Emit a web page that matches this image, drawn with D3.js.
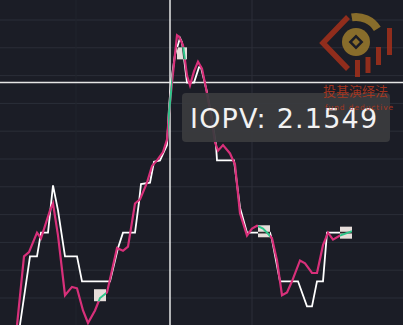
<!DOCTYPE html>
<html>
<head>
<meta charset="utf-8">
<script src="https://cdn.jsdelivr.net/npm/d3@7"></script>
<style>
  body { margin: 0; background: #1b1d26; }
  svg { display: block; }
</style>
</head>
<body>
<div id="chart"></div>
<script>
const width = 403, height = 325;

// IOPV (pink) series
const pinkT = [6, 9.6, 11.6, 14.8, 16.4, 20, 21.2, 23.2, 26, 28.8, 30.8, 33.2, 35.2, 38, 40, 42.8,
  46.8, 49.2, 51.2, 54, 56, 58.8, 60.8, 62.8, 65.2, 66.8, 67.6, 68.8, 70.8, 71.6, 73.2, 74.8,
  76, 77.6, 79.2, 80.8, 82.4, 84, 86, 87.2, 89.2, 92, 94, 96, 98.8, 100.8, 102.8, 105.2,
  106.8, 108.8, 110.8, 112.8, 114.8, 116.8, 120, 122, 124.8, 126.8, 129.2, 131.2, 133.2, 136, 140.8];
const pinkV = [2.1366, 2.1430, 2.1433, 2.1447, 2.1443, 2.1463, 2.1468, 2.1445, 2.1402, 2.1408, 2.1407, 2.1391, 2.1382, 2.1391, 2.1400, 2.1404,
  2.1436, 2.1434, 2.1437, 2.1468, 2.1471, 2.1483, 2.1495, 2.1499, 2.1505, 2.1514, 2.1533, 2.1555, 2.1589, 2.1588, 2.1582, 2.1560,
  2.1553, 2.1563, 2.1570, 2.1565, 2.1551, 2.1535, 2.1512, 2.1506, 2.1510, 2.1504, 2.1496, 2.1461, 2.1445, 2.1450, 2.1452, 2.1450,
  2.1447, 2.1443, 2.1427, 2.1402, 2.1404, 2.1412, 2.1427, 2.1425, 2.1418, 2.1418, 2.1438, 2.1447, 2.1442, 2.1445, 2.1448];

// price (white) series
const whiteT = [6.8, 12, 14.8, 16.4, 19.2, 21.2, 23.2, 26, 30.8, 32.8, 44, 47.2, 49.2, 54, 55.6, 56.4,
  60, 61.6, 64, 66.8, 67.6, 68.4, 70, 72, 72.8, 74.8, 77.6, 79.6, 80.4, 82.8, 84.8, 86.4,
  86.8, 93.6, 96, 98.8, 108, 108.8, 112, 119.2, 122.8, 124.8, 126.8, 129.2, 130.8, 140.8];
const whiteV = [2.1366, 2.1430, 2.1430, 2.1447, 2.1447, 2.1481, 2.1463, 2.1430, 2.1430, 2.1412, 2.1412, 2.1436, 2.1447, 2.1447, 2.1469, 2.1482,
  2.1483, 2.1498, 2.1499, 2.1510, 2.1537, 2.1555, 2.1575, 2.1587, 2.1584, 2.1555, 2.1555, 2.1566, 2.1566, 2.1548, 2.1529, 2.1510,
  2.1499, 2.1499, 2.1465, 2.1447, 2.1447, 2.1442, 2.1412, 2.1412, 2.1394, 2.1394, 2.1412, 2.1412, 2.1447, 2.1447];

const gridValues = [2.140, 2.142, 2.144, 2.146, 2.148, 2.150, 2.152, 2.154, 2.156, 2.158, 2.160];
const gridTimes = [30.4, 100.8];

// highlighted spans
const markT0 = [37.6, 70.8, 103.2, 136];
const markT1 = [42.4, 74.8, 108, 140.8];
const markV = [2.1402, 2.1576, 2.1448, 2.1447];

const cursorT = 68, cursorV = 2.1555;
const tipLabel = "IOPV: 2.1549";

const x = d3.scaleLinear().domain([0, 160]).range([0, 400]);
const y = d3.scaleLinear().domain([2.140, 2.160]).range([298, 20]);

const svg = d3.select("#chart").append("svg")
  .attr("width", width).attr("height", height);

svg.append("rect").attr("width", width).attr("height", height).attr("fill", "#1b1d26");

// grid
svg.append("g").selectAll("line").data(gridValues).enter().append("line")
  .attr("x1", 0).attr("x2", width)
  .attr("y1", d => y(d)).attr("y2", d => y(d))
  .attr("stroke", "#2b2e38").attr("stroke-width", 1);
svg.append("g").selectAll("line").data(gridTimes).enter().append("line")
  .attr("x1", d => x(d)).attr("x2", d => x(d))
  .attr("y1", 0).attr("y2", height)
  .attr("stroke", (d, i) => i === 0 ? "#21242d" : "#2c2f39").attr("stroke-width", 1);

// crosshair
svg.append("line").attr("x1", x(cursorT)).attr("x2", x(cursorT)).attr("y1", 0).attr("y2", height)
  .attr("stroke", "#e6e6e6").attr("stroke-width", 1.5);
svg.append("line").attr("x1", 0).attr("x2", width).attr("y1", y(cursorV)).attr("y2", y(cursorV))
  .attr("stroke", "#e6e6e6").attr("stroke-width", 1.5);

const line = d3.line().x(d => x(d[0])).y(d => y(d[1]));
const whiteData = d3.zip(whiteT, whiteV);
const pinkData = d3.zip(pinkT, pinkV);

svg.append("path").datum(whiteData).attr("d", line)
  .attr("fill", "none").attr("stroke", "#ffffff").attr("stroke-width", 1.8);
svg.append("path").datum(pinkData).attr("d", line)
  .attr("fill", "none").attr("stroke", "#d8307a").attr("stroke-width", 2.2);

// marker boxes with the segment redrawn inside
const defs = svg.append("defs");
markT0.forEach((t0, i) => {
  const x0 = x(t0), x1 = x(markT1[i]), yc = y(markV[i]);
  defs.append("clipPath").attr("id", "clip" + i)
    .append("rect").attr("x", x0).attr("y", yc - 6).attr("width", x1 - x0).attr("height", 12);
  svg.append("rect").attr("x", x0).attr("y", yc - 6).attr("width", x1 - x0).attr("height", 12)
    .attr("fill", "#f1e8e4").attr("opacity", 0.95);
  svg.append("path").datum(whiteData).attr("d", line).attr("clip-path", `url(#clip${i})`)
    .attr("fill", "none").attr("stroke", "#2a2a2a").attr("stroke-width", 1.6);
  svg.append("path").datum(pinkData).attr("d", line).attr("clip-path", `url(#clip${i})`)
    .attr("fill", "none").attr("stroke", "#2fc58a").attr("stroke-width", 2);
});
defs.append("clipPath").attr("id", "clipCursor")
  .append("rect").attr("x", x(67.2)).attr("y", 0).attr("width", x(68.9) - x(67.2)).attr("height", height);
svg.append("path").datum(pinkData).attr("d", line).attr("clip-path", "url(#clipCursor)")
  .attr("fill", "none").attr("stroke", "#2fc58a").attr("stroke-width", 2);

// tooltip
const tip = svg.append("g").attr("transform", "translate(182,93)");
tip.append("rect").attr("width", 208).attr("height", 49).attr("rx", 4)
  .attr("fill", "#3a3b3e").attr("opacity", 0.93);
tip.append("text").attr("x", 8).attr("y", 34.5)
  .attr("font-family", "DejaVu Sans, sans-serif").attr("font-size", 27)
  .attr("letter-spacing", 1.2).attr("fill", "#f2f2f2").text(tipLabel);

// logo
const logo = svg.append("g").attr("opacity", 0.85);
const red = "#a5301b", gold = "#9c7b2c";
logo.append("path").attr("d", "M348,17 L323,43 L348,69")
  .attr("fill", "none").attr("stroke", red).attr("stroke-width", 5.5).attr("stroke-linejoin", "miter");
logo.append("path")
  .attr("transform", "translate(356,42)")
  .attr("d", d3.arc().innerRadius(21).outerRadius(29).startAngle(-0.17).endAngle(1.02)())
  .attr("fill", gold);
logo.append("circle").attr("cx", 356).attr("cy", 42).attr("r", 14).attr("fill", gold);
logo.append("rect").attr("x", 352).attr("y", 38).attr("width", 8).attr("height", 8)
  .attr("transform", "rotate(45,356,42)")
  .attr("fill", "none").attr("stroke", "#1b1d26").attr("stroke-width", 2.5);
[[355, 60, 77], [365.5, 57, 73], [376, 47, 65], [387, 28, 55]].forEach(b => {
  logo.append("rect").attr("x", b[0]).attr("y", b[1]).attr("width", 5).attr("height", b[2] - b[1])
    .attr("fill", red);
});
logo.append("text").attr("x", 323).attr("y", 96)
  .attr("font-family", "Noto Sans CJK SC, sans-serif").attr("font-size", 13)
  .attr("fill", "#b8381e").text("投基演绎法");
logo.append("text").attr("x", 325).attr("y", 110)
  .attr("font-family", "DejaVu Sans, sans-serif").attr("font-size", 7.5).attr("letter-spacing", 0.9)
  .attr("fill", "#b8381e").text("fund deductive");
</script>
</body>
</html>
